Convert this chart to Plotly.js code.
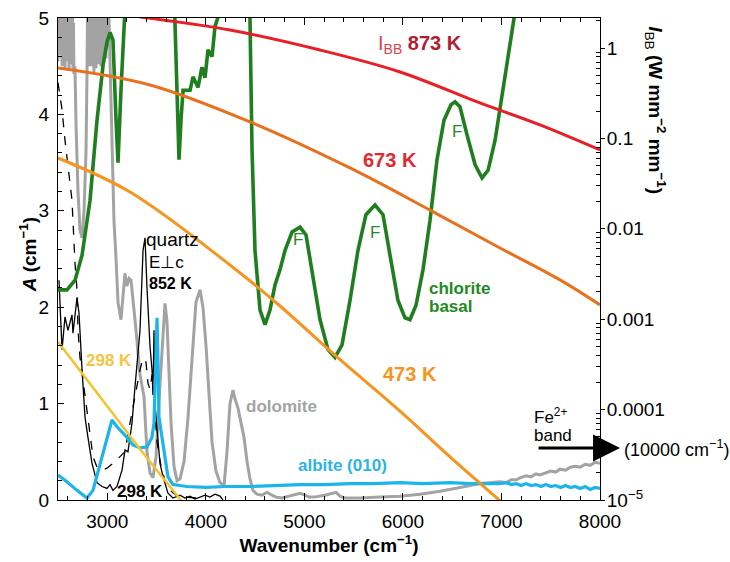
<!DOCTYPE html>
<html>
<head>
<meta charset="utf-8">
<script src="https://cdn.plot.ly/plotly-3.0.1.min.js"></script>
<style>html,body{margin:0;padding:0;background:#fff;}#chart{width:730px;height:562px;}</style>
</head>
<body>
<div id="chart"></div>
<script>
// ---- Spectra (left axis, absorption A in cm^-1) ----
const doloX = [2500,2505,2510,2515,2520,2525,2530,2536,2541,2546,2551,2556,2561,2566,2571,2576,2581,2586,2591,2596,2601,2607,2612,2617,2622,2627,2632,2637,2642,2647,2652,2657,2662,2672,2683,2703,2723,2744,2764,2784,2794,2799,2804,2810,2815,2820,2825,2830,2835,2840,2845,2850,2855,2860,2865,2870,2875,2880,2886,2891,2896,2901,2906,2911,2916,2921,2926,2931,2936,2941,2947,2952,2957,2962,2967,2972,2977,2982,2987,2992,2997,3002,3007,3017,3028,3048,3068,3089,3109,3139,3160,3180,3200,3221,3241,3261,3292,3332,3373,3403,3434,3464,3495,3535,3566,3586,3606,3626,3647,3677,3708,3738,3779,3819,3860,3900,3941,3971,4002,4032,4063,4103,4144,4185,4215,4245,4276,4296,4327,4357,4388,4418,4448,4479,4519,4570,4621,4672,4712,4773,4854,4956,5007,5047,5098,5209,5321,5362,5412,5565,5768,5971,6174,6377,6580,6782,6985,7050,7100,7150,7188,7250,7300,7350,7391,7450,7500,7550,7594,7650,7700,7750,7797,7850,7900,7950,8000];
const doloA = [4.55,5.0,4.7,5.0,4.62,5.0,4.75,5.0,4.5,5.0,4.66,5.0,4.58,5.0,4.47,5.0,4.7,5.0,4.55,5.0,4.62,5.0,4.45,5.0,4.6,5.0,4.52,5.0,4.56,5.0,4.48,4.95,4.42,4.5,3.9,3.2,2.8,2.72,3.0,3.6,4.4,5.0,4.62,5.0,4.55,5.0,4.5,5.0,4.68,5.0,4.5,5.0,4.7,5.0,4.44,5.0,4.58,5.0,4.48,5.0,4.55,5.0,4.6,5.0,4.52,5.0,4.62,5.0,4.5,5.0,4.66,5.0,4.6,5.0,4.54,5.0,4.64,5.0,4.58,5.0,4.8,5.0,4.7,5.0,4.5,3.6,2.9,2.5,2.05,1.87,2.1,2.35,2.22,2.3,2.28,2.1,1.76,1.3,1.07,0.5,0.28,0.23,0.45,1.2,1.8,2.04,1.85,1.4,0.8,0.35,0.2,0.22,0.4,0.85,1.5,2.05,2.18,2.0,1.6,1.15,0.6,0.3,0.18,0.15,0.5,1.0,1.14,1.05,0.95,0.8,0.65,0.4,0.22,0.1,0.06,0.05,0.08,0.05,0.03,0.02,0.04,0.07,0.05,0.03,0.03,0.05,0.08,0.04,0.02,0.02,0.03,0.04,0.06,0.09,0.13,0.17,0.19,0.18,0.21,0.21,0.23,0.25,0.24,0.27,0.26,0.28,0.3,0.29,0.32,0.31,0.34,0.35,0.34,0.37,0.36,0.39,0.38,0.41];

const quartzHotX = [2510,2541,2571,2601,2642,2652,2693,2713,2744,2774,2804,2845,2896,2947,2997,3028,3058,3099,3150,3180,3210,3251,3281,3332,3363,3383,3403,3434,3454,3464,3474,3484,3505,3535,3566,3616,3667,3738,3789,3840,3890,3941,3992,4043,4093,4144,4174];
const quartzHotA = [2.28,1.56,1.9,1.76,1.92,1.73,2.1,1.94,1.35,0.86,0.65,0.38,0.18,0.14,0.12,0.16,0.1,0.14,0.31,0.52,0.5,0.8,1.17,1.76,2.59,2.72,2.2,1.59,1.35,1.09,1.76,1.0,0.73,0.38,0.24,0.07,0.02,0.05,0.02,0.04,0.01,0.03,0.05,0.03,0.06,0.04,0.0];

const quartzRtX = [2500,2541,2571,2601,2642,2673,2693,2703,2723,2754,2794,2825,2855,2896,2947,2997,3058,3129,3180,3231,3281,3332,3363,3393,3413,3434,3454,3474,3505,3545,3586,3637,3697,3789,3941];
const quartzRtA = [4.33,4.05,3.73,3.45,3.11,2.45,2.18,1.76,1.48,1.24,0.93,0.65,0.45,0.34,0.31,0.33,0.38,0.45,0.5,0.8,1.07,1.35,1.47,1.43,1.21,1.15,1.3,1.0,0.6,0.35,0.2,0.1,0.05,0.03,0.02];

const albiteX = [2500,2591,2693,2794,2855,2926,2997,3048,3099,3200,3261,3332,3403,3454,3474,3484,3505,3515,3525,3555,3586,3616,3667,3809,4000,4200,4448,4700,4956,5200,5463,5700,5971,6200,6478,6700,6985,7050,7100,7150,7200,7250,7300,7350,7400,7450,7500,7550,7600,7650,7700,7750,7800,7850,7900,7950,8000];
const albiteA = [0.26,0.19,0.10,0.02,0.10,0.38,0.65,0.83,0.76,0.65,0.57,0.54,0.55,0.65,0.80,1.24,1.89,1.42,0.86,0.65,0.45,0.24,0.16,0.14,0.13,0.14,0.14,0.15,0.16,0.16,0.17,0.17,0.18,0.17,0.18,0.17,0.17,0.18,0.16,0.17,0.15,0.17,0.15,0.16,0.14,0.16,0.14,0.15,0.13,0.15,0.13,0.14,0.12,0.14,0.11,0.13,0.12];

const chloriteX = [2500,2591,2673,2744,2825,2896,2957,2997,3028,3058,3089,3109,3139,3170,3190,3677,3697,3718,3728,3748,3769,3840,3870,3921,3961,3992,4022,4063,4093,4124,4144,4438,4448,4469,4499,4550,4601,4651,4702,4753,4804,4875,4956,5017,5078,5159,5240,5311,5382,5463,5544,5625,5717,5798,5869,5950,6021,6072,6133,6204,6275,6346,6417,6488,6529,6579,6650,6732,6803,6864,6935,7006,7067,7128,7148];
const chloriteA = [2.18,2.18,2.28,2.54,3.11,3.94,4.51,4.75,4.85,4.77,3.94,3.50,4.25,4.88,5.3,5.3,4.56,3.63,3.53,3.94,4.25,4.25,4.39,4.28,4.49,4.38,4.67,4.60,4.91,5.01,5.3,5.3,5.0,3.63,2.59,1.97,1.82,1.97,2.23,2.39,2.59,2.78,2.83,2.75,2.39,1.87,1.56,1.48,1.61,2.07,2.59,2.96,3.06,2.96,2.54,2.07,1.89,1.87,2.02,2.39,2.90,3.53,3.94,4.10,4.13,4.08,3.79,3.48,3.34,3.42,3.73,4.20,4.62,5.0,5.3];

// ---- Blackbody intensities (right log axis, W mm^-2 mm^-1) ----
const bb873X = [3332,4245,5159,5971,6782,7391,8000];
const bb873I = [2.2,1.58,0.95,0.543,0.247,0.141,0.0745];
const bb673X = [2500,3434,4449,5463,6275,6985,7594,8000];
const bb673I = [0.601,0.390,0.152,0.0471,0.0161,0.00614,0.00272,0.00144];
const bb473X = [2500,3231,4245,4753,5331,5971,6478,7036];
const bb473I = [0.0607,0.0255,0.00398,0.00140,3.82e-4,9.6e-5,3.0e-5,8.8e-6];
const bb298X = [2500,3099,3332,3769];
const bb298I = [5.62e-4,7.87e-5,3.66e-5,9.3e-6];

// ---- Tick labels ----
const xTicks = [3000,4000,5000,6000,7000,8000];
const y2Ticks = [1e-5,1e-4,1e-3,1e-2,1e-1,1];
const y2TickText = ['10<sup>−5</sup>','0.0001','0.001','0.01','0.1','1'];

const FONT = 'Liberation Sans, Arial, Helvetica, sans-serif';
const y2Minor = [];
[1e-5,1e-4,1e-3,1e-2,1e-1,1].forEach(d => { for (let k = 2; k <= 9; k++) { if (d*k < 2.2) y2Minor.push(d*k); } });

const traces = [
  {x: doloX, y: doloA, type:'scatter', mode:'lines', line:{color:'#a3a3a3', width:3}, yaxis:'y'},
  {x: quartzRtX, y: quartzRtA, type:'scatter', mode:'lines', line:{color:'#000', width:1.3, dash:'dash'}, yaxis:'y'},
  {x: quartzHotX, y: quartzHotA, type:'scatter', mode:'lines', line:{color:'#000', width:1.3}, yaxis:'y'},
  {x: albiteX, y: albiteA, type:'scatter', mode:'lines', line:{color:'#1cb5ea', width:3.2}, yaxis:'y'},
  {x: chloriteX, y: chloriteA, type:'scatter', mode:'lines', line:{color:'#1f7f1f', width:3.6}, yaxis:'y'},
  {x: bb298X, y: bb298I, type:'scatter', mode:'lines', line:{color:'#f5c330', width:2.5, shape:'spline'}, yaxis:'y2'},
  {x: bb473X, y: bb473I, type:'scatter', mode:'lines', line:{color:'#f7941d', width:3, shape:'spline'}, yaxis:'y2'},
  {x: bb673X, y: bb673I, type:'scatter', mode:'lines', line:{color:'#e8711e', width:3, shape:'spline'}, yaxis:'y2'},
  {x: bb873X, y: bb873I, type:'scatter', mode:'lines', line:{color:'#e81f26', width:3, shape:'spline'}, yaxis:'y2'}
];

function lab(text, x, y, color, size, opts) {
  return Object.assign({text: text, x: x, y: y, xref:'x', yref:'y', showarrow:false,
    font:{family:FONT, size:size, color:color}, xanchor:'center', yanchor:'middle', borderpad:0}, opts || {});
}

const annotations = [
  lab('quartz', 3383, 2.70, '#000', 19, {xanchor:'left'}),
  lab('E⊥c', 3413, 2.46, '#000', 17, {xanchor:'left'}),
  lab('<b>852 K</b>', 3413, 2.25, '#000', 16, {xanchor:'left'}),
  lab('<b>298 K</b>', 3018, 1.45, '#f5c542', 17),
  lab('<b>298 K</b>', 3332, 0.093, '#000', 17),
  lab('<b>dolomite</b>', 4398, 0.965, '#a3a3a3', 17, {xanchor:'left'}),
  lab('<b>albite (010)</b>', 5392, 0.363, '#29b4e6', 17),
  lab('<b>473 K</b>', 6072, 1.307, '#f7941d', 20),
  lab('<b>chlorite</b>', 6255, 2.19, '#1f8a1f', 17, {xanchor:'left'}),
  lab('<b>basal</b>', 6255, 2.01, '#1f8a1f', 17, {xanchor:'left'}),
  lab('<b>673 K</b>', 5869, 3.53, '#de2a30', 20),
  lab('<span style="color:#d9434f">I<sub>BB</sub></span> <b>873 K</b>', 6174, 4.72, '#b21f30', 20),
  lab('F', 4936, 2.70, '#2a8a2a', 17),
  lab('F', 5717, 2.77, '#2a8a2a', 17),
  lab('F', 6549, 3.82, '#2a8a2a', 17),
  lab('Fe<sup>2+</sup>', 7320, 0.87, '#000', 17, {xanchor:'left'}),
  lab('band', 7320, 0.67, '#000', 17, {xanchor:'left'}),
  {x: 1.037, y: 0.54, xref:'paper', yref:'y', text:'', showarrow:true, ax:-83, ay:0,
   arrowhead:2, arrowsize:1.8, arrowwidth:3, arrowcolor:'#000', standoff:0},
  {x: 1.04, y: 0.53, xref:'paper', yref:'y', text:'(10000 cm<sup>−1</sup>)', showarrow:false,
   xanchor:'left', yanchor:'middle', font:{family:FONT, size:18, color:'#000'}},
  {x: 1.1015, y: 0.81, xref:'paper', yref:'paper', textangle:90, showarrow:false,
   text:'<b><i>I</i></b><sub>BB</sub><b> (W mm<sup>−2</sup> mm<sup>−1</sup>)</b>',
   xanchor:'center', yanchor:'middle', font:{family:FONT, size:19, color:'#000'}},
  {x: -0.055, y: 0.508, xref:'paper', yref:'paper', textangle:-90, showarrow:false,
   text:'<b><i>A</i> (cm<sup>−1</sup>)</b>',
   xanchor:'center', yanchor:'middle', font:{family:FONT, size:19, color:'#000'}}
];

const layout = {
  width:730, height:562,
  margin:{l:58, r:130, t:18, b:62},
  paper_bgcolor:'#fff', plot_bgcolor:'#fff',
  showlegend:false,
  font:{family:FONT, size:19, color:'#000'},
  xaxis:{range:[2500,8000], tickmode:'array', tickvals:xTicks, ticktext:xTicks.map(String),
    ticks:'inside', ticklen:7, tickwidth:1, tickcolor:'#000',
    minor:{dtick:200, tick0:0, ticks:'inside', ticklen:4, tickcolor:'#000'},
    showline:true, linecolor:'#000', linewidth:1, mirror:'ticks', showgrid:false, zeroline:false,
    tickfont:{family:FONT, size:19}, ticklabelstandoff:4,
    title:{text:'<b>Wavenumber (cm<sup>−1</sup>)</b>', font:{family:FONT, size:19}, standoff:6}},
  yaxis:{range:[0,5], tickmode:'array', tickvals:[0,1,2,3,4,5], ticks:'inside', ticklen:6, tickcolor:'#000',
    minor:{dtick:0.2, ticks:'inside', ticklen:4, tickcolor:'#000'},
    showline:true, linecolor:'#000', linewidth:1, showgrid:false, zeroline:false,
    tickfont:{family:FONT, size:19}, ticklabelstandoff:4},
  yaxis2:{type:'log', range:[-5, 0.332], overlaying:'y', side:'right',
    tickmode:'array', tickvals:y2Ticks, ticktext:y2TickText,
    ticks:'outside', ticklen:4, tickcolor:'#000',
    minor:{tickmode:'array', tickvals:y2Minor, ticks:'inside', ticklen:4, tickcolor:'#000'},
    showline:true, linecolor:'#000', linewidth:1, showgrid:false, zeroline:false,
    tickfont:{family:FONT, size:19}, ticklabelstandoff:-2},
  annotations: annotations
};

Plotly.newPlot('chart', traces, layout, {displayModeBar:false, staticPlot:true});
</script>
</body>
</html>
